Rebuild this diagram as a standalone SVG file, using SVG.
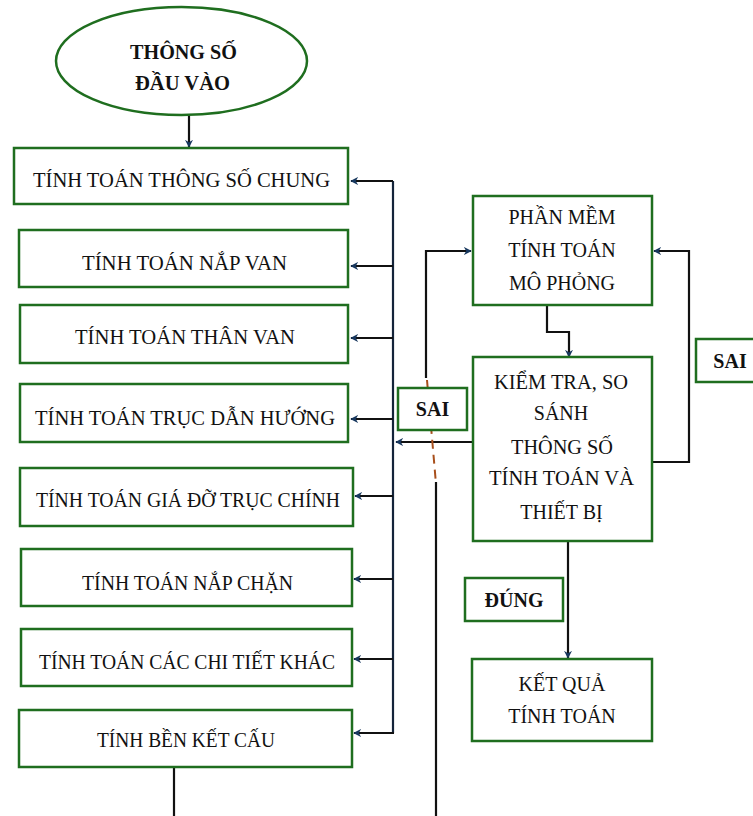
<svg xmlns="http://www.w3.org/2000/svg" width="753" height="816" viewBox="0 0 753 816" font-family="'Liberation Serif', 'Times New Roman', 'DejaVu Serif', serif">
<style>
.box{fill:#fff;stroke:#1f6e1f;stroke-width:2.5}
.t{font-family:'Liberation Serif','Times New Roman','DejaVu Serif',serif;font-size:20px;fill:#111;text-anchor:middle}
.b{font-weight:bold}
.ln{fill:none;stroke:#111;stroke-width:2.2}
.bus{fill:none;stroke:#14243a;stroke-width:2.2}
.dash{fill:none;stroke:#a84f1c;stroke-width:2;stroke-dasharray:9 6}
</style>
<defs>
<marker id="ah" viewBox="0 0 10 10" refX="9" refY="5" markerWidth="8" markerHeight="8" markerUnits="userSpaceOnUse" orient="auto">
<path d="M0,0 L10,5 L0,10 L3,5 z" fill="#17375e"/>
</marker>
</defs>
<rect width="753" height="816" fill="#fff"/>

<g id="connectors">
<path class="ln" d="M189,115 V147" marker-end="url(#ah)"/>
<path class="bus" d="M393,181 V733"/>
<path class="ln" d="M393,181 H351" marker-end="url(#ah)"/>
<path class="ln" d="M393,266 H351" marker-end="url(#ah)"/>
<path class="ln" d="M393,338 H351" marker-end="url(#ah)"/>
<path class="ln" d="M393,419 H351" marker-end="url(#ah)"/>
<path class="ln" d="M393,496 H355" marker-end="url(#ah)"/>
<path class="ln" d="M393,579 H354" marker-end="url(#ah)"/>
<path class="ln" d="M393,659 H354" marker-end="url(#ah)"/>
<path class="ln" d="M394,733 H354" marker-end="url(#ah)"/>
<path class="ln" d="M174,767 V816"/>
<path class="ln" d="M547,305 V332 H569 V357" marker-end="url(#ah)"/>
<path class="ln" d="M473,442 H396" marker-end="url(#ah)"/>
<path class="ln" d="M426,378 V251 H471" marker-end="url(#ah)"/>
<path class="dash" d="M427,380 L436,484"/>
<path class="ln" d="M436,482 V816"/>
<path class="ln" d="M652,462 H689 V251 H654" marker-end="url(#ah)"/>
<path class="ln" d="M568,541 V658" marker-end="url(#ah)"/>
</g>

<g id="start">
<ellipse class="box" cx="181.5" cy="61" rx="125.5" ry="54"/>
<text class="t b" x="183.5" y="59" textLength="107" lengthAdjust="spacingAndGlyphs">THÔNG SỐ</text>
<text class="t b" x="182.5" y="90" textLength="95" lengthAdjust="spacingAndGlyphs">ĐẦU VÀO</text>
</g>

<g id="n1">
<rect class="box" x="14" y="148" width="334" height="56"/>
<text class="t" x="181.5" y="187" textLength="297" lengthAdjust="spacingAndGlyphs">TÍNH TOÁN THÔNG SỐ CHUNG</text>
</g>
<g id="n2">
<rect class="box" x="19" y="230" width="329" height="57"/>
<text class="t" x="184.5" y="270" textLength="205" lengthAdjust="spacingAndGlyphs">TÍNH TOÁN NẮP VAN</text>
</g>
<g id="n3">
<rect class="box" x="20" y="305" width="328" height="58"/>
<text class="t" x="185" y="344" textLength="220" lengthAdjust="spacingAndGlyphs">TÍNH TOÁN THÂN VAN</text>
</g>
<g id="n4">
<rect class="box" x="20" y="384" width="328" height="58"/>
<text class="t" x="185" y="425" textLength="300" lengthAdjust="spacingAndGlyphs">TÍNH TOÁN TRỤC DẪN HƯỚNG</text>
</g>
<g id="n5">
<rect class="box" x="20" y="468" width="333" height="58"/>
<text class="t" x="188" y="507" textLength="304" lengthAdjust="spacingAndGlyphs">TÍNH TOÁN GIÁ ĐỠ TRỤC CHÍNH</text>
</g>
<g id="n6">
<rect class="box" x="21" y="549" width="331" height="57"/>
<text class="t" x="187.5" y="590" textLength="211" lengthAdjust="spacingAndGlyphs">TÍNH TOÁN NẮP CHẶN</text>
</g>
<g id="n7">
<rect class="box" x="21" y="629" width="331" height="57"/>
<text class="t" x="187" y="669" textLength="296" lengthAdjust="spacingAndGlyphs">TÍNH TOÁN CÁC CHI TIẾT KHÁC</text>
</g>
<g id="n8">
<rect class="box" x="19" y="710" width="333" height="57"/>
<text class="t" x="186" y="747" textLength="178" lengthAdjust="spacingAndGlyphs">TÍNH BỀN KẾT CẤU</text>
</g>

<g id="software">
<rect class="box" x="473" y="196" width="179" height="109"/>
<text class="t" x="562" y="224">PHẦN MỀM</text>
<text class="t" x="562" y="257">TÍNH TOÁN</text>
<text class="t" x="562" y="290">MÔ PHỎNG</text>
</g>

<g id="check">
<rect class="box" x="473" y="357" width="179" height="184"/>
<text class="t" x="561" y="389" textLength="134" lengthAdjust="spacingAndGlyphs">KIỂM TRA, SO</text>
<text class="t" x="561" y="420">SÁNH</text>
<text class="t" x="562" y="454" textLength="102" lengthAdjust="spacingAndGlyphs">THÔNG SỐ</text>
<text class="t" x="561.5" y="485" textLength="145" lengthAdjust="spacingAndGlyphs">TÍNH TOÁN VÀ</text>
<text class="t" x="561.5" y="519">THIẾT BỊ</text>
</g>

<g id="result">
<rect class="box" x="472" y="659" width="180" height="82"/>
<text class="t" x="562" y="691">KẾT QUẢ</text>
<text class="t" x="562" y="723">TÍNH TOÁN</text>
</g>

<g id="label-sai-left">
<rect class="box" x="398" y="388" width="69" height="42"/>
<text class="t b" x="432.5" y="416">SAI</text>
</g>
<g id="label-sai-right">
<rect class="box" x="696" y="339" width="60" height="43"/>
<text class="t b" x="730" y="368">SAI</text>
</g>
<g id="label-dung">
<rect class="box" x="465" y="578" width="98" height="43"/>
<text class="t b" x="514" y="607">ĐÚNG</text>
</g>
</svg>
